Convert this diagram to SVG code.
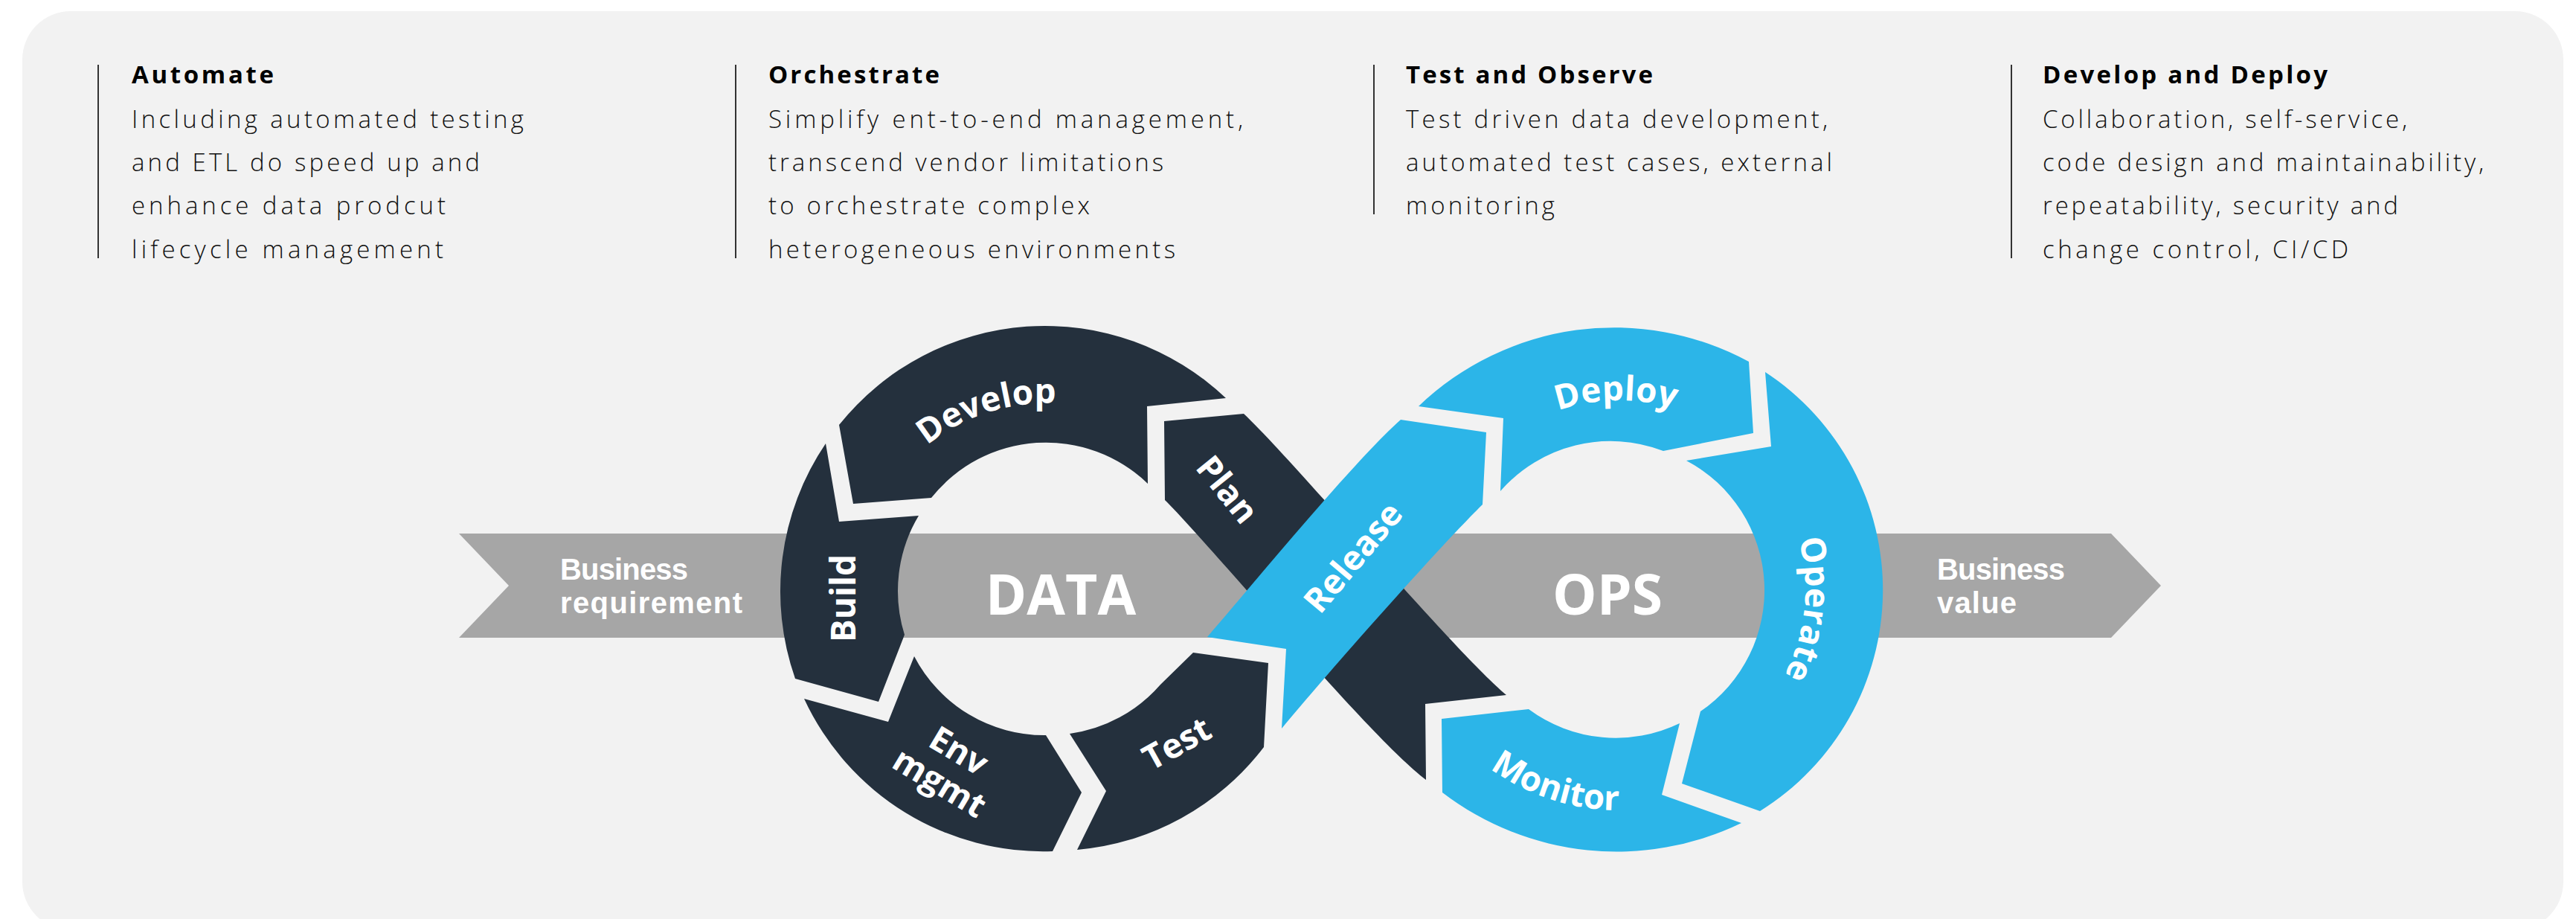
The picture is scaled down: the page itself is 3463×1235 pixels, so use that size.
<svg xmlns="http://www.w3.org/2000/svg" width="3463" height="1235" viewBox="0 0 3463 1235">
<style>
.hd{font-family:'Open Sans','Liberation Sans',sans-serif;font-weight:700;font-size:33px;fill:#000}
.bd{font-family:'Open Sans','Liberation Sans',sans-serif;font-weight:300;font-size:33px;fill:#111}
.sep{stroke:#333;stroke-width:2}
.dark{fill:#24303d}
.blue{fill:#2cb5e8}
.lbl{font-family:'Open Sans','Liberation Sans',sans-serif;font-weight:700;font-size:46px;fill:#fff}
.big{font-family:'Open Sans','Liberation Sans',sans-serif;font-weight:700;font-size:75px;fill:#fff;text-anchor:middle}
.bt{font-family:'Liberation Sans',Arial,sans-serif;font-weight:700;font-size:40px;fill:#fff}
</style>
<defs>
<path id="tp-develop" d="M1160.5,740 A250,250 0 0 1 1572.3,606.2"/>
<path id="tp-deploy" d="M1954.8,668.9 A254,254 0 0 1 2394.7,661.2"/>
<path id="tp-operate" d="M2323.9,589.7 A250,250 0 0 1 2278.7,1020.4"/>
<path id="tp-monitor" d="M1886.5,853.7 A297,297 0 0 0 2375.7,1012.7"/>
</defs>
<rect width="3463" height="1235" fill="#fff"/>
<rect x="30" y="15" width="3416" height="1235" rx="65" fill="#f2f2f2"/>

<g id="col-automate">
<line class="sep" x1="132" y1="87" x2="132" y2="347"/>
<text class="hd" x="177" y="112" textLength="191">Automate</text>
<text class="bd" x="177" y="172" textLength="527">Including automated testing</text>
<text class="bd" x="177" y="230" textLength="468">and ETL do speed up and</text>
<text class="bd" x="177" y="288" textLength="422">enhance data prodcut</text>
<text class="bd" x="177" y="347" textLength="419">lifecycle management</text>
</g>
<g id="col-orchestrate">
<line class="sep" x1="989" y1="87" x2="989" y2="347"/>
<text class="hd" x="1033" y="112" textLength="230">Orchestrate</text>
<text class="bd" x="1033" y="172" textLength="638">Simplify ent-to-end management,</text>
<text class="bd" x="1033" y="230" textLength="531">transcend vendor limitations</text>
<text class="bd" x="1033" y="288" textLength="432">to orchestrate complex</text>
<text class="bd" x="1033" y="347" textLength="547">heterogeneous environments</text>
</g>
<g id="col-test-observe">
<line class="sep" x1="1847" y1="87" x2="1847" y2="288"/>
<text class="hd" x="1890" y="112" textLength="332">Test and Observe</text>
<text class="bd" x="1890" y="172" textLength="567">Test driven data development,</text>
<text class="bd" x="1890" y="230" textLength="573">automated test cases, external</text>
<text class="bd" x="1890" y="288" textLength="200">monitoring</text>
</g>
<g id="col-develop-deploy">
<line class="sep" x1="2704" y1="87" x2="2704" y2="347"/>
<text class="hd" x="2746" y="112" textLength="383">Develop and Deploy</text>
<text class="bd" x="2746" y="172" textLength="490">Collaboration, self-service,</text>
<text class="bd" x="2746" y="230" textLength="593">code design and maintainability,</text>
<text class="bd" x="2746" y="288" textLength="478">repeatability, security and</text>
<text class="bd" x="2746" y="347" textLength="411">change control, CI/CD</text>
</g>

<g id="connectors">
<polygon points="617,717 2838,717 2905,787 2838,857 617,857 684,787" fill="#a6a6a6"/>
</g>
<g id="band-labels">
<text class="bt"><tspan x="753" y="779" textLength="172">Business</tspan><tspan x="753" y="824" textLength="245">requirement</tspan></text>
<text class="bt"><tspan x="2604" y="779" textLength="172">Business</tspan><tspan x="2604" y="824" textLength="107">value</tspan></text>
<text class="big" x="1426" y="826">DATA</text>
<text class="big" x="2161" y="826">OPS</text>
</g>

<g id="seg-develop">
<path class="dark" d="M1648,535 A354,354 0 0 0 1128,571 L1147,677 L1252,669 A197,197 0 0 1 1543,650 L1542,546 Z"/>
<text class="lbl" text-anchor="middle"><textPath href="#tp-develop" startOffset="50%">Develop</textPath></text>
</g>
<g id="seg-build">
<path class="dark" d="M1110,596 A354,354 0 0 0 1069,912 L1181,943 L1216,853 A197,197 0 0 1 1235,693 L1128,701 Z"/>
<text class="lbl" text-anchor="middle" transform="translate(1150,804) rotate(-90)">Build</text>
</g>
<g id="seg-env">
<path class="dark" d="M1081,939 A354,354 0 0 0 1415,1144 L1454,1065 L1406,988 A197,197 0 0 1 1229,882 L1194,970 Z"/>
<text class="lbl" text-anchor="middle" transform="translate(1275,1032) rotate(31)"><tspan x="0" y="-11">Env</tspan><tspan x="0" y="39">mgmt</tspan></text>
</g>
<g id="seg-test">
<path class="dark" d="M1448,1142 A354,354 0 0 0 1699,1004 L1705,891 L1604,877 L1560,920 A197,197 0 0 1 1438,986 L1487,1063 Z"/>
<text class="lbl" text-anchor="middle" transform="translate(1582,999) rotate(-29)" y="16">Test</text>
</g>
<g id="seg-plan">
<path class="dark" d="M1672,556 C1740,620 1950,870 2025,934 L1916,946 L1917,1048 C1840,990 1630,735 1566,672 L1565,566 Z"/>
<text class="lbl" text-anchor="middle" transform="translate(1650,658) rotate(51)" y="16">Plan</text>
</g>
<g id="seg-release">
<path class="blue" d="M1623,856 C1680,790 1820,620 1883,564 L1998,581 L1993,678 C1930,740 1780,910 1723,979 L1729,872 Z"/>
<text class="lbl" text-anchor="middle" transform="translate(1819,749) rotate(-50)" y="16">Release</text>
</g>
<g id="seg-deploy">
<path class="blue" d="M1907,546 A380,380 0 0 1 2351,486 L2357,582 L2236,606 A197,197 0 0 0 2017,660 L2021,562 Z"/>
<text class="lbl" text-anchor="middle"><textPath href="#tp-deploy" startOffset="50%">Deploy</textPath></text>
</g>
<g id="seg-operate">
<path class="blue" d="M2373,500 A350,350 0 0 1 2366,1090 L2261,1053 L2286,956 A197,197 0 0 0 2267,619 L2381,600 Z"/>
<text class="lbl" text-anchor="middle"><textPath href="#tp-operate" startOffset="50%">Operate</textPath></text>
</g>
<g id="seg-monitor">
<path class="blue" d="M2341,1106 A385,385 0 0 1 1939,1065 L1938,966 L2055,953 A197,197 0 0 0 2258,972 L2234,1068 Z"/>
<text class="lbl" text-anchor="middle"><textPath href="#tp-monitor" startOffset="50%">Monitor</textPath></text>
</g>
</svg>
